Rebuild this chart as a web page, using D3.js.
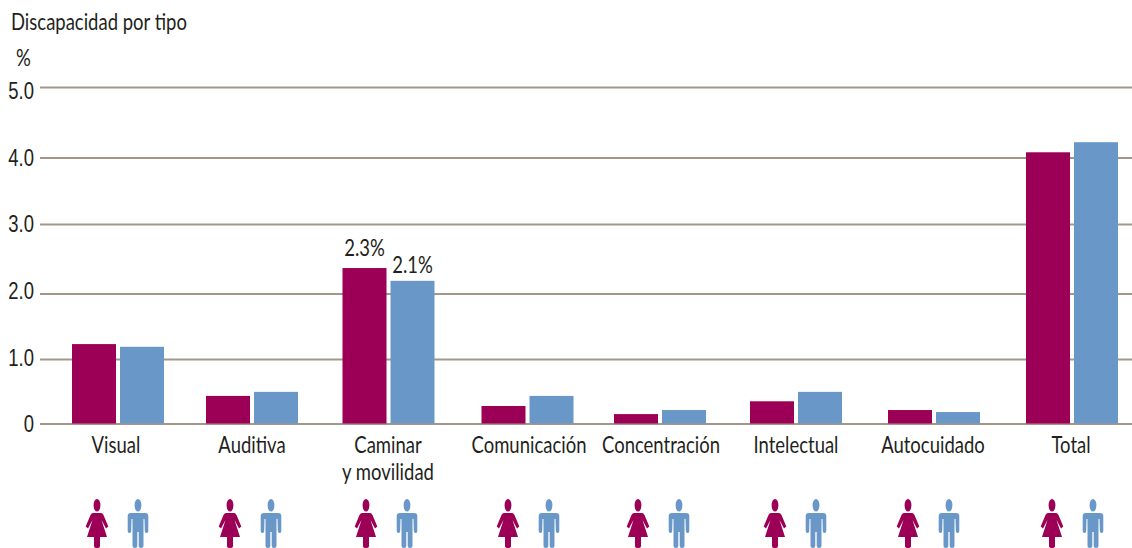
<!DOCTYPE html>
<html>
<head>
<meta charset="utf-8">
<script src="https://cdn.jsdelivr.net/npm/d3@7"></script>
<style>
  html, body { margin: 0; padding: 0; background: #fff; overflow: hidden; }
  svg { display: block; }
  text { font-family: Lato, "Liberation Sans", sans-serif; fill: #231f20; }
  .axis .domain { display: none; }
</style>
</head>
<body>
<div id="chart"></div>
<script>
// Data
const categories = ["Visual", "Auditiva", "Caminar y movilidad", "Comunicación", "Concentración", "Intelectual", "Autocuidado", "Total"];
const mujeres = [1.18, 0.41, 2.31, 0.26, 0.14, 0.33, 0.20, 4.03];
const hombres = [1.14, 0.47, 2.12, 0.41, 0.20, 0.47, 0.17, 4.18];
const yTicks = [0, 1, 2, 3, 4, 5];
const barLabelsMujeres = ["", "", "2.3%", "", "", "", "", ""];
const barLabelsHombres = ["", "", "2.1%", "", "", "", "", ""];

const width = 1132;
const height = 548;
const barWidth = 44;
const colorMujer = "#9c0056";
const colorHombre = "#6897c8";
const lineColor = "#a39789";
const fontSize = 24;
const narrow = 0.77; // no condensed font is installed, so the text gets squeezed

// The groups are not evenly spaced in the reference, so the scales are ordinal
const barCenter = d3.scaleOrdinal().domain(categories).range([118, 252, 388.5, 527.5, 660, 796, 934, 1072]);
const labelCenter = d3.scaleOrdinal().domain(categories).range([116, 252, 388, 529, 661, 796, 933, 1071]);
const iconCenter = d3.scaleOrdinal().domain(categories).range([117.5, 250.5, 386.5, 528.5, 658.5, 795.5, 928.5, 1072.5]);

const yScale = d3.scaleLinear().domain([0, 5]).range([423.5, 87]);
// Gridlines and their labels sit a little off the bar scale in the reference
const gridScale = d3.scaleLinear().domain(yTicks).range([423.5, 359, 293.5, 224, 157.5, 87]);
const tickLabelScale = d3.scaleLinear().domain([0, 5]).range([424, 91]);

const squeeze = (selection) => {
  selection.each(function () {
    this.setAttribute("lengthAdjust", "spacingAndGlyphs");
    const length = this.getComputedTextLength();
    if (length > 0) this.setAttribute("textLength", length * narrow);
  });
};

const svg = d3.select("#chart")
  .append("svg")
    .attr("width", width)
    .attr("height", height)
    .attr("viewBox", [0, 0, width, height]);

// Title and unit
svg.append("text")
  .attr("x", 11)
  .attr("y", 30)
  .style("font-size", `${fontSize}px`)
  .text("Discapacidad por tipo")
  .call(squeeze);
svg.append("text")
  .attr("x", 16)
  .attr("y", 66)
  .style("font-size", `${fontSize}px`)
  .text("%")
  .call(squeeze);

// Gridlines
const gridAxis = d3.axisRight(gridScale)
  .tickValues(yTicks)
  .tickSize(width - 40)
  .tickFormat("");
svg.append("g")
  .attr("class", "axis")
  .attr("transform", "translate(40, 0)")
  .call(gridAxis)
  .call(g => g.selectAll(".tick line").attr("stroke", lineColor).attr("stroke-width", 2));

// Tick labels
const labelAxis = d3.axisLeft(tickLabelScale)
  .tickValues(yTicks)
  .tickSize(0)
  .tickPadding(0)
  .tickFormat(d => d === 0 ? "0" : d3.format(".1f")(d));
svg.append("g")
  .attr("class", "axis")
  .attr("transform", "translate(34, 0)")
  .call(labelAxis)
  .call(g => g.selectAll(".tick text")
    .style("font-size", `${fontSize}px`)
    .style("font-family", "inherit")
    .attr("fill", null)
    .call(squeeze));

// Bars
const drawBars = (values, side, color) => {
  svg.append("g")
    .selectAll("rect")
    .data(values)
    .join("rect")
      .attr("x", (d, i) => barCenter(categories[i]) + (side < 0 ? -barWidth - 2 : 2))
      .attr("y", d => yScale(d))
      .attr("width", barWidth)
      .attr("height", d => yScale(0) - yScale(d))
      .attr("fill", color);
};
drawBars(mujeres, -1, colorMujer);
drawBars(hombres, 1, colorHombre);

// Value labels over the bars
const drawBarLabels = (labels, values, side, gap) => {
  svg.append("g")
    .selectAll("text")
    .data(labels)
    .join("text")
      .attr("x", (d, i) => barCenter(categories[i]) + side * (barWidth / 2 + 2))
      .attr("y", (d, i) => yScale(values[i]) - gap)
      .attr("text-anchor", "middle")
      .style("font-size", "24px")
      .text(d => d)
      .call(squeeze);
};
drawBarLabels(barLabelsMujeres, mujeres, -1, 12);
drawBarLabels(barLabelsHombres, hombres, 1, 8);

// Category labels, the long one breaks over two lines
const categoryLines = categories.flatMap(d =>
  (d === "Caminar y movilidad" ? ["Caminar", "y movilidad"] : [d]).map((line, i) => ({ category: d, line, i })));
svg.append("g")
  .selectAll("text")
  .data(categoryLines)
  .join("text")
    .attr("x", d => labelCenter(d.category))
    .attr("y", d => 453 + d.i * 27)
    .attr("text-anchor", "middle")
    .style("font-size", `${fontSize}px`)
    .text(d => d.line)
    .call(squeeze);

// Pictograms
const womanPath = "M-4,14 L4,14 Q5.5,14 6.5,16 L11.3,27.5 L9,29.5 L4.5,21 L10,38 L3,38 L3,47 Q3,49 0,49 Q-3,49 -3,47 L-3,38 L-10,38 L-4.5,21 L-9,29.5 L-11.3,27.5 L-6.5,16 Q-5.5,14 -4,14 Z";
const manPath = "M-7,14 L7,14 Q10.3,14 10.3,17 L10.3,32 Q10.3,34 8.7,34 Q6.8,34 6.8,32 L6.5,20 L5.5,20 L5.5,47 Q5.5,49 3,49 Q0.7,49 0.7,47 L0.7,33 L-0.7,33 L-0.7,47 Q-0.7,49 -3,49 Q-5.5,49 -5.5,47 L-5.5,20 L-6.5,20 L-6.8,32 Q-6.8,34 -8.7,34 Q-10.3,34 -10.3,32 L-10.3,17 Q-10.3,14 -7,14 Z";
const drawIcons = (path, offset, color) => {
  const icons = svg.append("g")
    .selectAll("g")
    .data(categories)
    .join("g")
      .attr("transform", d => `translate(${iconCenter(d) + offset}, 499)`)
      .attr("fill", color);
  icons.append("ellipse")
    .attr("cy", 6.3)
    .attr("rx", 3.4)
    .attr("ry", 6.3);
  icons.append("path")
    .attr("d", path);
};
drawIcons(womanPath, -20.5, colorMujer);
drawIcons(manPath, 20.5, colorHombre);
</script>
</body>
</html>
